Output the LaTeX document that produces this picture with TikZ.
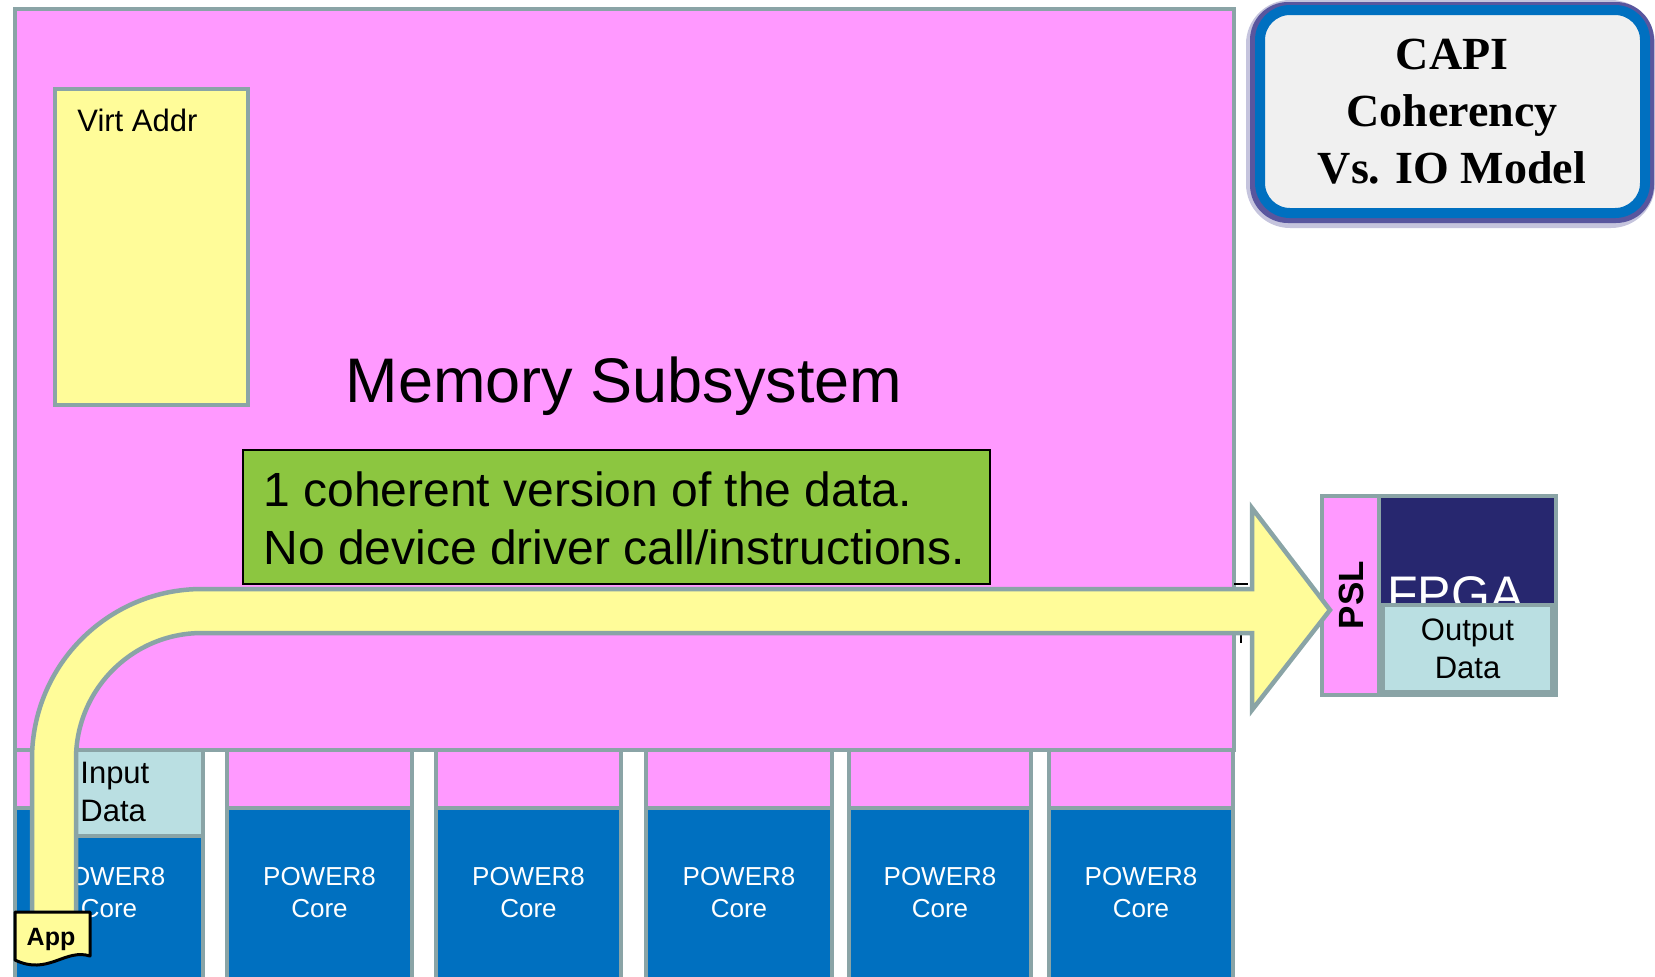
\documentclass[tikz,border=0pt]{standalone}
\usepackage{fontspec}
\setmainfont{Liberation Sans}
\newfontfamily\titlefont{Liberation Serif}
\usetikzlibrary{fit,positioning}
\definecolor{mempink}{HTML}{FF99FF}
\definecolor{rim}{HTML}{8AA4A6}
\definecolor{hilite}{HTML}{FFFC99}
\definecolor{coreblue}{HTML}{0070C0}
\definecolor{datacyan}{HTML}{BADFE2}
\definecolor{notegreen}{HTML}{8CC640}
\definecolor{fpganavy}{HTML}{27276F}
\definecolor{titlegray}{HTML}{F0F0F0}
\definecolor{glow}{HTML}{3E3A8E}
\tikzset{
  region/.style={draw=rim,line width=2.25pt,inner sep=0pt},
  memblock/.style={region,fill=mempink},
  yellowblock/.style={region,fill=hilite},
  coreblock/.style={region,fill=coreblue},
  datablock/.style={region,fill=datacyan},
  smalltxt/.style={font=\fontsize{15.5}{19}\selectfont,inner sep=0pt},
  coretxt/.style={font=\fontsize{13}{16}\selectfont,text=white,align=center,inner sep=0pt},
  notetxt/.style={font=\fontsize{24}{29}\selectfont,align=left,inner sep=0pt},
  bigtxt/.style={font=\fontsize{31.5}{37}\selectfont,inner sep=0pt},
  titletxt/.style={font=\titlefont\bfseries\fontsize{23}{28.5}\selectfont,align=center,inner sep=0pt},
}
\begin{document}
\begin{tikzpicture}[x=0.5pt,y=-0.5pt]
  \useasboundingbox (0,0) rectangle (1655,976);
  % memory subsystem
  \node[memblock,fit={(15,9) (1234,750)}] (mem) {};
  \node[yellowblock,fit={(55,89) (248,405)}] (virt) {};
  \node[smalltxt,anchor=west] (virtlbl) at (77,120) {Virt Addr};
  \node[bigtxt] (memlbl) at (624,386) {Memory Subsystem};
  \node[draw=black,line width=0.75pt,fill=notegreen,inner sep=0pt,fit={(243,450) (990,584)}] (note) {};
  \node[notetxt,anchor=west] (notelbl) at (263,518) {1 coherent version of the data.\\No device driver call/instructions.};
  % cores
  \foreach \i/\xa/\xb in {1/15/203,2/227/412,3/436/621,4/646/832,5/849/1031,6/1049/1233}{
    \node[memblock,fit={(\xa,750) (\xb,808)}] (cache\i) {};
    \node[coreblock,fit={(\xa,808) (\xb,995)}] (core\i) {};
    \node[coretxt] (corelbl\i) at ({(\xa+\xb)/2},893) {POWER8\\Core};
  }
  \node[datablock,fit={(60,750) (203,836)}] (indata) {};
  \node[smalltxt,anchor=west,align=left] (inlbl) at (80,792) {Input\\Data};
  % accelerator
  \node[memblock,fit={(1322,496) (1379,695)}] (psl) {};
  \node[region,fill=fpganavy,fit={(1379,496) (1556,695)}] (fpga) {};
  \node[anchor=base west,inner sep=0pt,text=white,font=\fontsize{25}{30}\selectfont] (fpgalbl) at (1387,611) {FPGA};
  \node[datablock,fit={(1383,605) (1552,692)}] (outdata) {};
  \node[smalltxt,align=center] (outlbl) at (outdata) {Output\\Data};
  \node[rotate=90,inner sep=0pt,font=\bfseries\fontsize{17.5}{21}\selectfont] (psllbl) at (1351,595) {PSL};
  \draw[line width=1pt] (1234,584) -- (1248,584) (1241,635) -- (1241,643);
  % data path
  \draw[region,fill=hilite,line join=miter] (32,913) -- (32,759)
    arc[start angle=180,end angle=270,radius=170] -- (1252,589) -- (1252,508)
    -- (1330,610) -- (1252,710) -- (1252,633) -- (202,633)
    arc[start angle=270,end angle=180,radius=126] -- (76,913) -- cycle;
  \draw[line width=1.5pt,fill=hilite,line join=round] (15,912) -- (90,912) -- (90,956)
    .. controls (65,948) and (48,976) .. (15,960) -- cycle;
  \node[inner sep=0pt,font=\bfseries\fontsize{12.5}{15}\selectfont] (app) at (51,939) {App};
  % title
  \fill[glow,opacity=0.3,rounded corners=22pt] (1246,0) rectangle (1655,228);
  \fill[glow,opacity=0.8,rounded corners=19pt] (1250,2) rectangle (1654,223);
  \node[draw=coreblue,line width=5pt,fill=titlegray,rounded corners=15pt,inner sep=0pt,fit={(1260,10) (1645,213)}] (title) {};
  \node[titletxt] (titlelbl) at (1452,112) {CAPI\\Coherency\\Vs. IO Model};
\end{tikzpicture}
\end{document}
